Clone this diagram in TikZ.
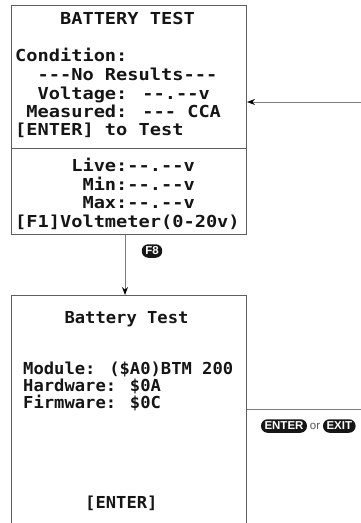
\documentclass[tikz,border=0pt]{standalone}
\usepackage{fontspec}
\setmainfont{Liberation Sans}
\newfontfamily\lcdfont{DejaVu Sans Mono}[FakeStretch=1.13,Ligatures=TeXOff]
\newfontfamily\lcdfontb{DejaVu Sans Mono}[FakeStretch=1.04,Ligatures=TeXOff]
\usetikzlibrary{
  arrows.meta,
  positioning
}
\definecolor{scFrame}{HTML}{5E5E5E}
\definecolor{scLine}{HTML}{7C7C7C}
\definecolor{scText}{HTML}{151515}
\definecolor{scKey}{HTML}{161616}
\definecolor{scMute}{HTML}{555555}
\tikzset{
  screen/.style={
    draw=scFrame, line width=1pt, inner sep=0pt, anchor=north west,
    minimum width=235pt
  },
  screenrule/.style={draw=scFrame, line width=1pt},
  lcdrow/.style={
    font=\lcdfont\bfseries\fontsize{16.5}{18.5}\selectfont, text=scText,
    inner sep=0pt, anchor=base west
  },
  lcdrowb/.style={lcdrow, font=\lcdfontb\bfseries\fontsize{16.5}{17}\selectfont},
  keycap/.style={
    fill=scKey, text=white, rounded corners=6.5pt, inner xsep=3.5pt, inner ysep=0pt,
    minimum height=13.5pt, font=\fontsize{11.5}{11.5}\selectfont\bfseries
  },
  keyjoin/.style={font=\fontsize{11.5}{11.5}\selectfont, text=scMute, inner sep=0pt},
  flowline/.style={-{Stealth[length=8pt, width=6pt, color=black]}, draw=scLine, line width=1pt}
}

\begin{document}
\begin{tikzpicture}[x=1pt, y=-1pt]
  \useasboundingbox (0,0) rectangle (360,523);

  % upper screen
  \node[screen, minimum height=229pt] (screenA) at (11,5) {};
  \coordinate (divL) at (11,148);
  \draw[screenrule] (divL) -- (divL -| screenA.east);
  \node[lcdrow] (tTitle) at (15,24) {~~~~BATTERY TEST};
  \node[lcdrow] (tCond) at (15,61) {Condition:};
  \node[lcdrow] (tRes) at (15,80) {~~---No Results---};
  \node[lcdrow] (tVolt) at (15,99) {~~Voltage: --.--v};
  \node[lcdrow] (tMeas) at (15,117) {~Measured: --- CCA};
  \node[lcdrow] (tEnter) at (15,135) {[ENTER] to Test};
  \node[lcdrow] (tLive) at (15,171) {~~~~~Live:--.--v};
  \node[lcdrow] (tMin) at (15,190) {~~~~~~Min:--.--v};
  \node[lcdrow] (tMax) at (15,208) {~~~~~~Max:--.--v};
  \node[lcdrow] (tF1) at (15,227) {[F1]Voltmeter(0-20v)};

  % lower screen
  \node[screen, minimum height=240pt] (screenB) at (11,295) {};
  \node[lcdrowb] (bTitle) at (23,323) {~~~~Battery Test};
  \node[lcdrowb] (bMod) at (23,374) {Module: (\$A0)BTM 200};
  \node[lcdrowb] (bHw) at (23,391) {Hardware: \$0A};
  \node[lcdrowb] (bFw) at (23,408) {Firmware: \$0C};
  \node[lcdrowb] (bEnter) at (23,508) {~~~~~~[ENTER]};

  % F8 down
  \coordinate (f8x) at (125,0);
  \draw[flowline] (screenA.south -| f8x) -- (screenB.north -| f8x);
  \node[keycap] (kF8) at (152,251) {F8};

  % back up on ENTER or EXIT
  \coordinate (loopLo) at (364,409);
  \coordinate (loopHi) at (364,102);
  \draw[flowline] (screenB.east |- loopLo) -- (loopLo) -- (loopHi) -- (screenA.east |- loopHi);
  \node[keycap] (kEnter) at (284,426) {ENTER};
  \node[keyjoin, right=2.5pt of kEnter] (kOr) {or};
  \node[keycap, right=2.5pt of kOr] (kExit) {EXIT};
\end{tikzpicture}
\end{document}
